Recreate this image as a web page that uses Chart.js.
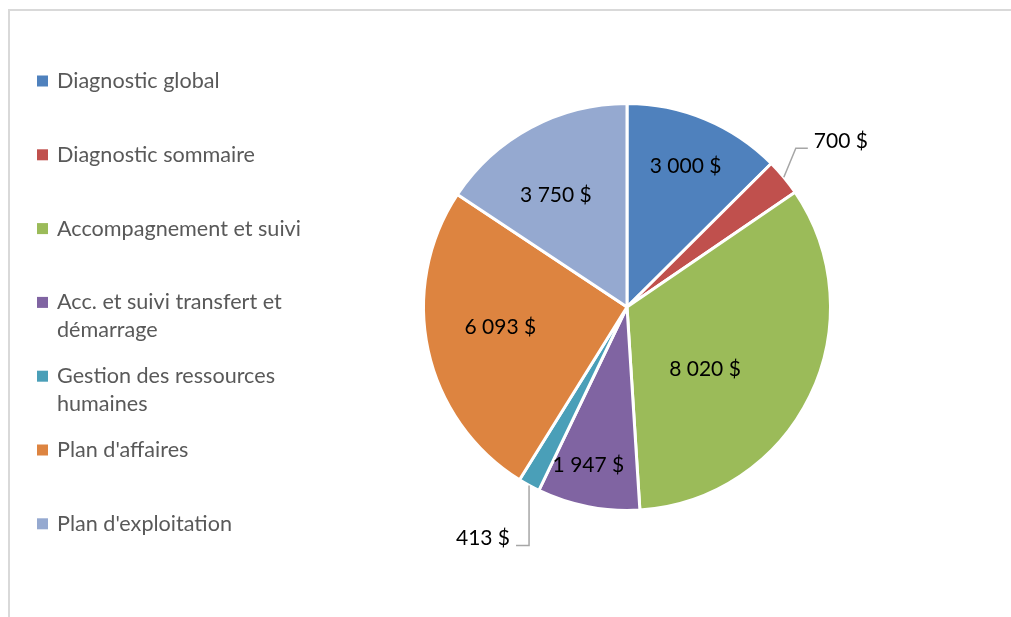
<!DOCTYPE html>
<html lang="fr">
<head>
<meta charset="utf-8">
<title>Répartition des montants</title>
<script src="https://cdn.jsdelivr.net/npm/chart.js@4/dist/chart.umd.min.js"></script>
<style>
  html, body { margin: 0; padding: 0; background: #fff; }
  #wrap { position: relative; width: 1011px; height: 617px; }
  #wrap::before {
    content: ""; position: absolute; left: 8px; top: 9px; right: 0; bottom: 0;
    border-top: 2px solid #d9d9d9; border-left: 2px solid #d9d9d9;
  }
  canvas { position: absolute; left: 0; top: 0; }
</style>
</head>
<body>
<div id="wrap"><canvas id="pie" width="1011" height="617"></canvas></div>
<script>
const categories = [
  "Diagnostic global",
  "Diagnostic sommaire",
  "Accompagnement et suivi",
  "Acc. et suivi transfert et démarrage",
  "Gestion des ressources humaines",
  "Plan d'affaires",
  "Plan d'exploitation"
];
// legend wrapping as in the original
const legendLines = [
  ["Diagnostic global"],
  ["Diagnostic sommaire"],
  ["Accompagnement et suivi"],
  ["Acc. et suivi transfert et", "démarrage"],
  ["Gestion des ressources", "humaines"],
  ["Plan d'affaires"],
  ["Plan d'exploitation"]
];
const amounts = [3000, 700, 8020, 1947, 413, 6093, 3750];
const colors = ["#4f81bd", "#c0504d", "#9bbb59", "#8064a2", "#4a9fb8", "#dd8440", "#95a9d0"];

function fmt(v) {
  return String(v).replace(/\B(?=(\d{3})+(?!\d))/g, " ") + " $";
}

const FONT = "Lato, Calibri, 'Open Sans', sans-serif";

// label placement: inside -> [radius fraction, angle shift in degrees]; outside -> leader elbow offset
const labelStyle = [
  { inside: [0.75, 0] },
  { outside: { elbow: [12, -29], run: 12, align: "left" } },
  { inside: [0.49, 12.5] },
  { inside: [0.80, 2.7] },
  { outside: { elbow: [0, 60], run: -13, align: "right" } },
  { inside: [0.63, 3.3] },
  { inside: [0.65, -4.3] }
];

const sideLegend = {
  id: "sideLegend",
  afterDraw(chart) {
    const ctx = chart.ctx;
    ctx.save();
    ctx.font = "21.6px " + FONT;
    ctx.textBaseline = "middle";
    legendLines.forEach((lines, i) => {
      const y = 81 + i * 73.8;
      ctx.fillStyle = colors[i];
      ctx.fillRect(37, y - 5.5, 11, 11);
      ctx.fillStyle = "#595959";
      lines.forEach((t, k) => ctx.fillText(t, 57, y + k * 28));
    });
    ctx.restore();
  }
};

const sliceLabels = {
  id: "sliceLabels",
  afterDatasetsDraw(chart) {
    const ctx = chart.ctx;
    const meta = chart.getDatasetMeta(0);
    ctx.save();
    ctx.font = "21px " + FONT;
    ctx.fillStyle = "#000";
    ctx.textBaseline = "middle";
    meta.data.forEach((arc, i) => {
      const p = arc.getProps(["x", "y", "startAngle", "endAngle", "outerRadius"], true);
      const mid = (p.startAngle + p.endAngle) / 2;
      const st = labelStyle[i];
      const text = fmt(amounts[i]);
      if (st.inside) {
        const a = mid + st.inside[1] * Math.PI / 180;
        const r = p.outerRadius * st.inside[0];
        ctx.textAlign = "center";
        ctx.fillText(text, p.x + Math.cos(a) * r, p.y + Math.sin(a) * r);
      } else {
        const o = st.outside;
        const sx = p.x + Math.cos(mid) * p.outerRadius;
        const sy = p.y + Math.sin(mid) * p.outerRadius;
        const ex = sx + o.elbow[0], ey = sy + o.elbow[1];
        const hx = ex + o.run;
        ctx.strokeStyle = "#a6a6a6";
        ctx.lineWidth = 1.5;
        ctx.beginPath();
        ctx.moveTo(sx, sy);
        ctx.lineTo(ex, ey);
        ctx.lineTo(hx, ey);
        ctx.stroke();
        ctx.textAlign = o.align;
        const tx = o.align === "left" ? hx + 6 : hx - 6;
        ctx.fillText(text, tx, ey - 7);
      }
    });
    ctx.restore();
  }
};

new Chart(document.getElementById("pie"), {
  type: "pie",
  data: {
    labels: categories,
    datasets: [{
      data: amounts,
      backgroundColor: colors,
      borderColor: "#ffffff",
      borderWidth: 3,
      hoverOffset: 0
    }]
  },
  options: {
    responsive: false,
    animation: false,
    layout: { padding: { left: 422, right: 179, top: 101, bottom: 104 } },
    plugins: {
      legend: { display: false },
      tooltip: { enabled: false }
    }
  },
  plugins: [sideLegend, sliceLabels]
});
</script>
</body>
</html>
